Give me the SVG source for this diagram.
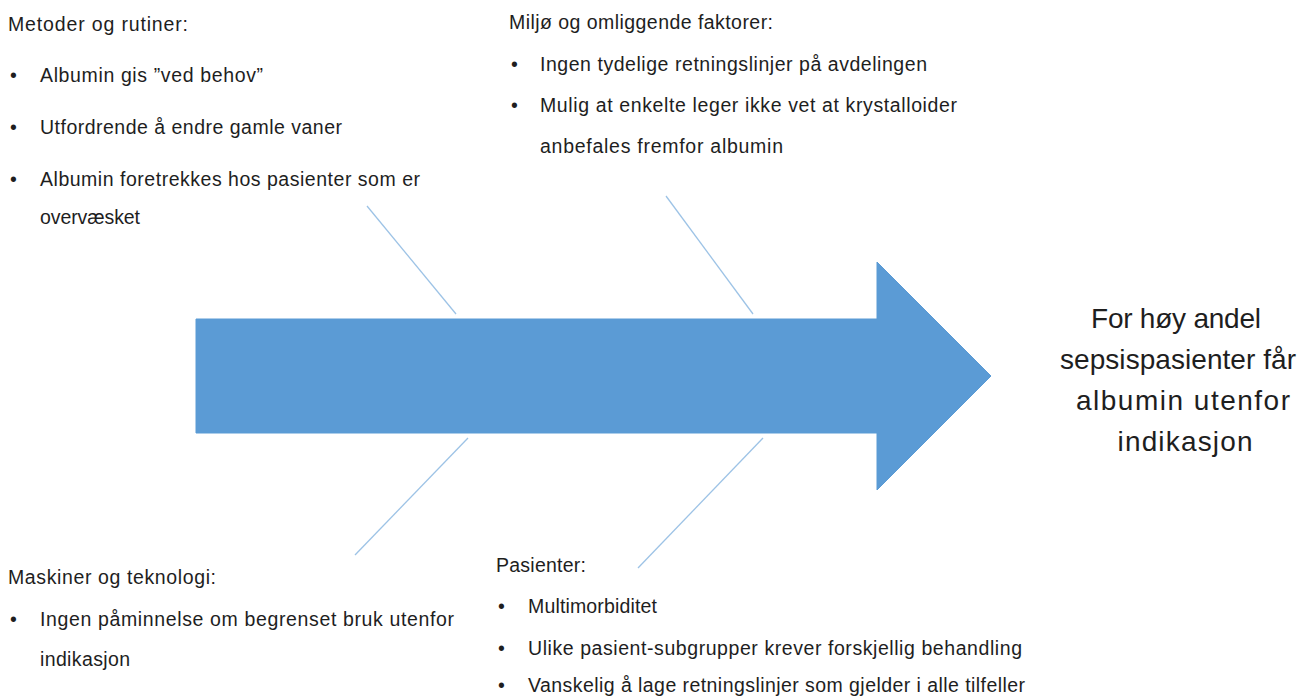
<svg xmlns="http://www.w3.org/2000/svg" width="1312" height="698" viewBox="0 0 1312 698">
<style>
text{font-family:"Liberation Sans",Arial,sans-serif;fill:#1e1e1e}
.t{font-size:19.5px}
.h{font-size:28px}
.bone{stroke:#9dc3e6;stroke-width:1.3;fill:none}
</style>
<rect width="1312" height="698" fill="#ffffff"/>
<g id="spine">
<path d="M196,319 H877 V262 L991,376 L877,490 V433 H196 Z" fill="#5b9bd5" stroke="#5b9bd5" stroke-width="1"/>
</g>
<g id="connectors">
<line class="bone" x1="367" y1="206" x2="456" y2="314"/>
<line class="bone" x1="666" y1="196" x2="753" y2="314"/>
<line class="bone" x1="468" y1="438" x2="355" y2="555"/>
<line class="bone" x1="763" y1="438" x2="638" y2="568"/>
</g>
<g id="metoder">
<text class="t" x="8" y="31" textLength="180" lengthAdjust="spacing">Metoder og rutiner:</text>
<text class="t" x="10" y="82">•</text><text class="t" x="40" y="82" textLength="223" lengthAdjust="spacing">Albumin gis ”ved behov”</text>
<text class="t" x="10" y="134">•</text><text class="t" x="40" y="134" textLength="302" lengthAdjust="spacing">Utfordrende å endre gamle vaner</text>
<text class="t" x="10" y="186">•</text><text class="t" x="40" y="186" textLength="380" lengthAdjust="spacing">Albumin foretrekkes hos pasienter som er</text>
<text class="t" x="40" y="224" textLength="100" lengthAdjust="spacing">overvæsket</text>
</g>
<g id="miljo">
<text class="t" x="509" y="29" textLength="264" lengthAdjust="spacing">Miljø og omliggende faktorer:</text>
<text class="t" x="511" y="71">•</text><text class="t" x="540" y="71" textLength="387" lengthAdjust="spacing">Ingen tydelige retningslinjer på avdelingen</text>
<text class="t" x="511" y="112">•</text><text class="t" x="540" y="112" textLength="417" lengthAdjust="spacing">Mulig at enkelte leger ikke vet at krystalloider</text>
<text class="t" x="540" y="153" textLength="243" lengthAdjust="spacing">anbefales fremfor albumin</text>
</g>
<g id="maskiner">
<text class="t" x="8" y="584" textLength="208" lengthAdjust="spacing">Maskiner og teknologi:</text>
<text class="t" x="10" y="626">•</text><text class="t" x="40" y="626" textLength="414" lengthAdjust="spacing">Ingen påminnelse om begrenset bruk utenfor</text>
<text class="t" x="40" y="666" textLength="90" lengthAdjust="spacing">indikasjon</text>
</g>
<g id="pasienter">
<text class="t" x="496" y="572" textLength="90" lengthAdjust="spacing">Pasienter:</text>
<text class="t" x="498" y="613">•</text><text class="t" x="528" y="613" textLength="129" lengthAdjust="spacing">Multimorbiditet</text>
<text class="t" x="498" y="655">•</text><text class="t" x="528" y="655" textLength="494" lengthAdjust="spacing">Ulike pasient-subgrupper krever forskjellig behandling</text>
<text class="t" x="498" y="692">•</text><text class="t" x="528" y="692" textLength="497" lengthAdjust="spacing">Vanskelig å lage retningslinjer som gjelder i alle tilfeller</text>
</g>
<g id="effect">
<text class="h" x="1176" y="328" text-anchor="middle" textLength="170" lengthAdjust="spacing">For høy andel</text>
<text class="h" x="1178" y="369" text-anchor="middle" textLength="236" lengthAdjust="spacing">sepsispasienter får</text>
<text class="h" x="1183" y="410" text-anchor="middle" textLength="214" lengthAdjust="spacing">albumin utenfor</text>
<text class="h" x="1185" y="451" text-anchor="middle" textLength="135" lengthAdjust="spacing">indikasjon</text>
</g>
</svg>
